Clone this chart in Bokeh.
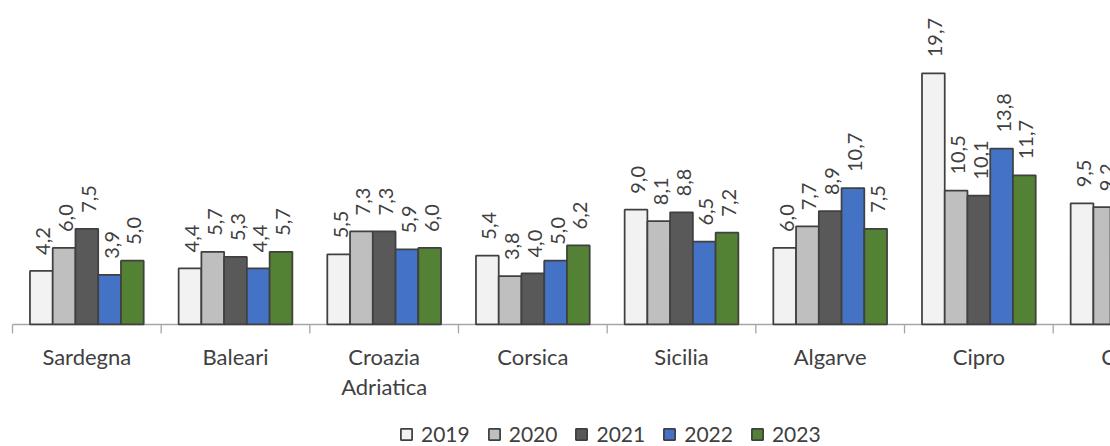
import math
import numpy as np
from bokeh.plotting import figure
from bokeh.models import ColumnDataSource, Range1d, Legend, LegendItem
from bokeh.core.properties import value
from bokeh.embed import file_html
from bokeh.resources import INLINE

nan = float("nan")
categories = ["Sardegna", "Baleari", "Croazia\nAdriatica", "Corsica", "Sicilia",
              "Algarve", "Cipro", "Creta"]
years = ["2019", "2020", "2021", "2022", "2023"]
v2019 = [4.2, 4.4, 5.5, 5.4, 9.0, 6.0, 19.7, 9.5]
v2020 = [6.0, 5.7, 7.3, 3.8, 8.1, 7.7, 10.5, 9.2]
v2021 = [7.5, 5.3, 7.3, 4.0, 8.8, 8.9, 10.1, nan]
v2022 = [3.9, 4.4, 5.9, 5.0, 6.5, 10.7, 13.8, nan]
v2023 = [5.0, 5.7, 6.0, 6.2, 7.2, 7.5, 11.7, nan]
series = [v2019, v2020, v2021, v2022, v2023]
colors = ["#F2F2F2", "#BFBFBF", "#595959", "#4472C4", "#548235"]

FONT = "Lato"
TXT = "#404040"

p = figure(width=1110, height=446, output_backend="svg", toolbar_location=None,
           x_range=Range1d(-0.0807, 7.3855), y_range=Range1d(-9.57, 25.41),
           x_axis_type=None, y_axis_type=None, min_border=0,
           outline_line_color=None)
p.grid.visible = False

n = len(categories)
centers = np.arange(n) + 0.5
bw = 0.153

# baseline and ticks
p.segment(x0=[0], y0=[0], x1=[n], y1=[0], line_color="#A6A6A6", line_width=1.3)
p.ray(x=np.arange(n + 1), y=np.zeros(n + 1), length=9, length_units="screen",
      angle=-math.pi / 2, line_color="#A6A6A6", line_width=1.3)

items = []
for k, (yr, vals, col) in enumerate(zip(years, series, colors)):
    xs = centers + (k - 2) * bw
    labels = ["" if math.isnan(v) else f"{v:.1f}".replace(".", ",") for v in vals]
    src = ColumnDataSource(dict(x=xs, top=np.array(vals, dtype=float), label=labels))
    r = p.vbar(x="x", top="top", bottom=0, width=bw, source=src,
               fill_color=col, line_color="#404040", line_width=1.75)
    p.text(x="x", y="top", text="label", source=src, angle=math.pi / 2,
           text_align="left", text_baseline="middle", y_offset=-16, x_offset=2,
           text_font=value(FONT), text_font_size="20px", text_color=TXT)
    items.append(LegendItem(label=yr, renderers=[r]))

p.text(x=centers, y=np.zeros(n), text=categories, text_align="center",
       text_baseline="top", y_offset=19, text_font=value(FONT),
       text_font_size="22px", text_color=TXT, text_line_height=1.08)

legend = Legend(items=items, orientation="horizontal", location=(399, 0),
                glyph_width=14, glyph_height=14, label_standoff=8, spacing=17,
                padding=0, margin=0, border_line_color=None,
                background_fill_alpha=0, label_text_font=FONT,
                label_text_font_size="21px", label_text_color=TXT)
p.add_layout(legend)

open("out.html", "w").write(file_html(p, INLINE))
